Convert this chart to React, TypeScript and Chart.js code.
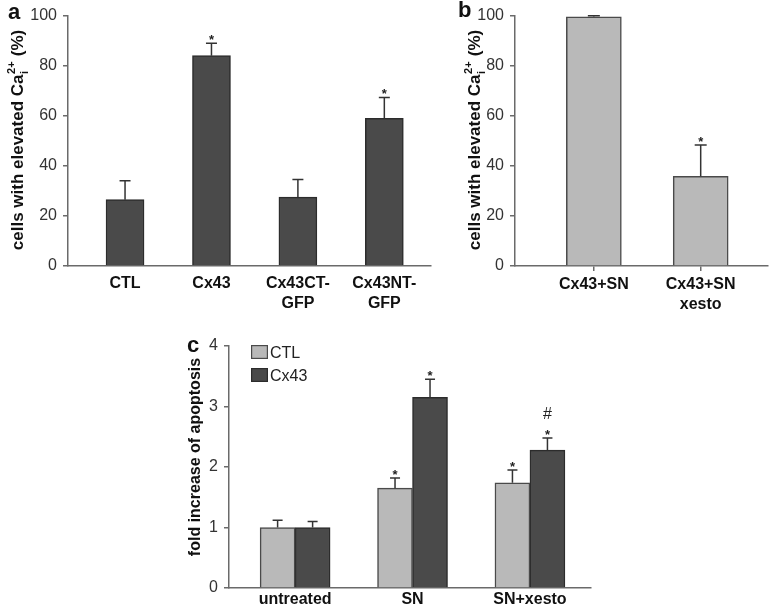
import React, { useEffect, useRef } from 'react';
import { Chart, registerables } from 'chart.js';

Chart.register(...registerables);

const FONT = "'Liberation Sans', Arial, Helvetica, sans-serif";

// ---- Panel a ----
const catsA: string[][] = [['CTL'], ['Cx43'], ['Cx43CT-', 'GFP'], ['Cx43NT-', 'GFP']];
const valuesA = [26.5, 84, 27.5, 59];
const errorsA = [7.5, 5, 7, 8.3];
const marksA = ['', '*', '', '*'];

// ---- Panel b ----
const catsB: string[][] = [['Cx43+SN'], ['Cx43+SN', 'xesto']];
const valuesB = [99.5, 35.8];
const errorsB = [0.4, 12.5];
const marksB = ['', '*'];

// ---- Panel c ----
const catsC = ['untreated', 'SN', 'SN+xesto'];
const seriesC = ['CTL', 'Cx43'];
const ctlC = [1.0, 1.65, 1.74];
const ctlErrC = [0.12, 0.17, 0.21];
const ctlMarksC = ['', '*', '*'];
const cx43C = [1.0, 3.15, 2.28];
const cx43ErrC = [0.1, 0.3, 0.2];
const cx43MarksC = ['', '*', '*#'];

const DARK = '#4a4a4a';
const DARK_BORDER = '#2c2c2c';
const LIGHT = '#b9b9b9';
const LIGHT_BORDER = '#4a4a4a';
const AXIS = '#6a6a6a';

const errorBarPlugin = {
  id: 'errbars',
  afterDatasetsDraw(chart: any, _a: any, opts: any) {
    const ctx = chart.ctx;
    const yScale = chart.scales.y;
    chart.data.datasets.forEach((ds: any, i: number) => {
      const meta = chart.getDatasetMeta(i);
      meta.data.forEach((el: any, j: number) => {
        const v = ds.data[j].y;
        const e = ds.errors[j];
        const top = yScale.getPixelForValue(v + e);
        ctx.save();
        ctx.strokeStyle = '#333';
        ctx.lineWidth = 1.5;
        ctx.beginPath();
        ctx.moveTo(el.x, el.y);
        ctx.lineTo(el.x, top);
        ctx.moveTo(el.x - opts.cap / 2, top);
        ctx.lineTo(el.x + opts.cap / 2, top);
        ctx.stroke();
        ctx.fillStyle = '#222';
        ctx.textAlign = 'center';
        ctx.textBaseline = 'alphabetic';
        const m: string = ds.marks[j] || '';
        for (const ch of m) {
          if (ch === '*') {
            ctx.font = `bold 13px ${FONT}`;
            ctx.fillText('*', el.x, top + 1);
          } else if (ch === '#') {
            ctx.font = `16px ${FONT}`;
            ctx.fillText('#', el.x, top - 19);
          }
        }
        ctx.restore();
      });
    });
  },
};

const yTitlePlugin = {
  id: 'ytitle',
  afterDraw(chart: any, _a: any, opts: any) {
    const ctx = chart.ctx;
    const fs = opts.size;
    ctx.save();
    ctx.translate(opts.cx, opts.cy);
    ctx.rotate(-Math.PI / 2);
    ctx.fillStyle = '#111';
    ctx.textBaseline = 'alphabetic';
    ctx.textAlign = 'left';
    const big = `bold ${fs}px ${FONT}`;
    const small = `bold ${Math.round(fs * 0.65)}px ${FONT}`;
    ctx.font = big;
    const wMain = ctx.measureText(opts.main).width;
    const wTail = opts.tail ? ctx.measureText(opts.tail).width : 0;
    ctx.font = small;
    const wSup = opts.sup ? ctx.measureText(opts.sup).width : 0;
    const wSub = opts.sub ? ctx.measureText(opts.sub).width : 0;
    const wMid = Math.max(wSup, wSub) + (opts.sup ? 1 : 0);
    const total = wMain + wMid + wTail;
    let x = -total / 2;
    const base = fs * 0.36;
    ctx.font = big;
    ctx.fillText(opts.main, x, base);
    x += wMain;
    if (opts.sup) {
      ctx.font = small;
      ctx.fillText(opts.sup, x + 0.5, base - fs * 0.48);
      if (opts.sub) ctx.fillText(opts.sub, x + 0.5, base + fs * 0.26);
      x += wMid;
    }
    if (opts.tail) {
      ctx.font = big;
      ctx.fillText(opts.tail, x, base);
    }
    ctx.restore();
  },
};

const legendPlugin = {
  id: 'boxlegend',
  afterDraw(chart: any, _a: any, opts: any) {
    if (!opts || !opts.show) return;
    const ctx = chart.ctx;
    const ca = chart.chartArea;
    ctx.save();
    chart.data.datasets.forEach((ds: any, i: number) => {
      const x = ca.left + 22;
      const y = ca.top - 1 + i * 23;
      ctx.fillStyle = ds.backgroundColor;
      ctx.fillRect(x, y, 17, 14);
      ctx.strokeStyle = ds.borderColor;
      ctx.lineWidth = 1.2;
      ctx.strokeRect(x + 0.6, y + 0.6, 15.8, 12.8);
      ctx.fillStyle = '#222';
      ctx.font = `16px ${FONT}`;
      ctx.textBaseline = 'alphabetic';
      ctx.textAlign = 'left';
      ctx.fillText(ds.label, x + 19, y + 13);
    });
    ctx.restore();
  },
};

function makeConfig(p: any): any {
  return {
    type: 'bar',
    data: { datasets: p.datasets },
    plugins: [errorBarPlugin, yTitlePlugin, legendPlugin],
    options: {
      animation: false,
      responsive: false,
      maintainAspectRatio: false,
      events: [],
      layout: { padding: p.padding },
      plugins: {
        legend: { display: false },
        tooltip: { enabled: false },
        errbars: { cap: p.cap },
        ytitle: p.title,
        boxlegend: { show: !!p.legend },
      },
      scales: {
        x: {
          type: 'linear',
          min: p.xMin,
          max: p.xMax,
          offset: false,
          bounds: 'data',
          afterFit: (s: any) => {
            s.height = p.xAxisHeight;
          },
          afterBuildTicks: (s: any) => {
            s.ticks = p.cats.map((_: any, i: number) => ({ value: i }));
          },
          grid: {
            display: !!p.xTickMarks,
            drawOnChartArea: false,
            drawTicks: !!p.xTickMarks,
            tickLength: 5,
            color: AXIS,
            lineWidth: 1.5,
            offset: false,
          },
          border: { display: true, color: AXIS, width: 1.5 },
          ticks: {
            autoSkip: false,
            maxRotation: 0,
            minRotation: 0,
            padding: p.xPad,
            color: '#111',
            font: { family: FONT, size: 16, weight: 'bold', lineHeight: 1.25 },
            callback: (v: number) => p.cats[v],
          },
        },
        y: {
          min: 0,
          max: p.yMax,
          afterFit: (s: any) => {
            s.width = p.yAxisWidth;
          },
          grid: {
            drawOnChartArea: false,
            drawTicks: true,
            tickLength: 5,
            color: AXIS,
            lineWidth: 1.5,
          },
          border: { display: true, color: AXIS, width: 1.5 },
          ticks: {
            stepSize: p.yStep,
            padding: 6,
            color: '#333',
            font: { family: FONT, size: 16 },
          },
        },
      },
    },
  };
}

function Panel(props: { left: number; top: number; width: number; height: number; make: () => any }) {
  const ref = useRef<HTMLCanvasElement | null>(null);
  useEffect(() => {
    const chart = new Chart(ref.current as HTMLCanvasElement, props.make());
    return () => chart.destroy();
  }, []);
  return (
    <canvas
      ref={ref}
      width={props.width}
      height={props.height}
      style={{ position: 'absolute', left: props.left, top: props.top, width: props.width, height: props.height }}
    />
  );
}

const letterStyle = (left: number, top: number): React.CSSProperties => ({
  position: 'absolute',
  left,
  top,
  fontFamily: FONT,
  fontWeight: 'bold',
  fontSize: 22,
  lineHeight: '22px',
  color: '#111',
});

export default function App() {
  const makeA = () =>
    makeConfig({
      cats: catsA,
      datasets: [
        {
          label: 'a',
          data: valuesA.map((v, i) => ({ x: i, y: v })),
          errors: errorsA,
          marks: marksA,
          backgroundColor: DARK,
          borderColor: DARK_BORDER,
          borderWidth: 1.5,
          barThickness: 38,
        },
      ],
      padding: { top: 13, right: 9, left: 0, bottom: 0 },
      xMin: -0.66,
      xMax: 3.54,
      xAxisHeight: 46,
      yAxisWidth: 68,
      yMax: 100,
      yStep: 20,
      xPad: 8,
      cap: 11,
      title: { cx: 17, cy: 140, size: 17, main: 'cells with elevated Ca', sup: '2+', sub: 'i', tail: ' (%)' },
    });
  const makeB = () =>
    makeConfig({
      cats: catsB,
      datasets: [
        {
          label: 'b',
          data: valuesB.map((v, i) => ({ x: i, y: v })),
          errors: errorsB,
          marks: marksB,
          backgroundColor: LIGHT,
          borderColor: LIGHT_BORDER,
          borderWidth: 1.5,
          barThickness: 55,
        },
      ],
      padding: { top: 10, right: 1, left: 0, bottom: 0 },
      xMin: -0.738,
      xMax: 1.63,
      xAxisHeight: 46,
      yAxisWidth: 80,
      yMax: 100,
      yStep: 20,
      xPad: 4,
      xTickMarks: true,
      cap: 12,
      title: { cx: 39, cy: 140, size: 17, main: 'cells with elevated Ca', sup: '2+', sub: 'i', tail: ' (%)' },
    });
  const makeC = () =>
    makeConfig({
      cats: catsC,
      datasets: [
        {
          label: seriesC[0],
          data: ctlC.map((v, i) => ({ x: i, y: v })),
          errors: ctlErrC,
          marks: ctlMarksC,
          backgroundColor: LIGHT,
          borderColor: LIGHT_BORDER,
          borderWidth: 1.5,
          barThickness: 35,
        },
        {
          label: seriesC[1],
          data: cx43C.map((v, i) => ({ x: i, y: v })),
          errors: cx43ErrC,
          marks: cx43MarksC,
          backgroundColor: DARK,
          borderColor: DARK_BORDER,
          borderWidth: 1.5,
          barThickness: 35,
        },
      ],
      padding: { top: 28, right: 9, left: 0, bottom: 0 },
      xMin: -0.563,
      xMax: 2.52,
      xAxisHeight: 26,
      yAxisWidth: 79,
      yMax: 4,
      yStep: 1,
      xPad: 2,
      cap: 10,
      legend: true,
      title: { cx: 44, cy: 139, size: 16, main: 'fold increase of apoptosis' },
    });

  return (
    <div style={{ position: 'absolute', left: 0, top: 0, width: 769, height: 614, background: '#fff', overflow: 'hidden' }}>
      <Panel left={0} top={0} width={440} height={312} make={makeA} />
      <Panel left={435} top={0} width={334} height={312} make={makeB} />
      <Panel left={150} top={318} width={450} height={296} make={makeC} />
      <div style={letterStyle(8, 1)}>a</div>
      <div style={letterStyle(458, -1)}>b</div>
      <div style={letterStyle(187, 334)}>c</div>
    </div>
  );
}
